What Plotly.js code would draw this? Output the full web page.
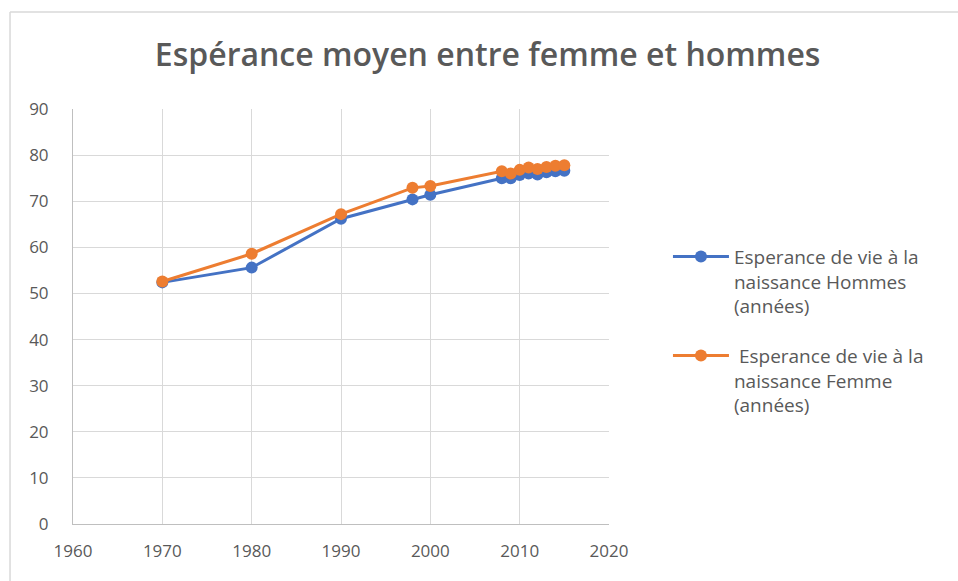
<!DOCTYPE html>
<html>
<head>
<meta charset="utf-8">
<script src="https://cdn.plot.ly/plotly-3.0.1.min.js"></script>
<style>
html,body{margin:0;padding:0;background:#fff;}
#chart{width:958px;height:581px;}
</style>
</head>
<body>
<div id="chart"></div>
<script>
const years = [1970, 1980, 1990, 1998, 2000, 2008, 2009, 2010, 2011, 2012, 2013, 2014, 2015];
const hommes = [52.4, 55.6, 66.2, 70.4, 71.4, 75.0, 75.0, 75.7, 76.0, 75.8, 76.3, 76.5, 76.6];
const femmes = [52.6, 58.6, 67.2, 72.9, 73.3, 76.5, 76.0, 76.8, 77.3, 77.0, 77.4, 77.7, 77.8];
const seriesNames = ["Esperance de vie à la<br>naissance Hommes<br>(années)", " Esperance de vie à la<br>naissance Femme<br>(années)"];
const titleText = "Espérance moyen entre femme et hommes";
const xTicks = [1960, 1970, 1980, 1990, 2000, 2010, 2020];
const yTicks = [0, 10, 20, 30, 40, 50, 60, 70, 80, 90];

const traces = [
  {x: years, y: hommes, name: seriesNames[0], legendgroup: 'h', type: 'scatter', mode: 'lines+markers',
   line: {color: '#4472C4', width: 3}, marker: {color: '#4472C4', size: 12}},
  {x: years, y: femmes, name: seriesNames[1], legendgroup: 'f', type: 'scatter', mode: 'lines+markers',
   line: {color: '#ED7D31', width: 3}, marker: {color: '#ED7D31', size: 12}}
];

const fontFam = '"Open Sans", "Liberation Sans", sans-serif';
const layout = {
  width: 958, height: 581,
  margin: {l: 73, r: 349, t: 109, b: 57},
  paper_bgcolor: '#fff', plot_bgcolor: '#fff',
  title: {text: titleText, x: 0.509, xanchor: 'center', y: 0.905, yanchor: 'middle',
          font: {family: fontFam, size: 32, color: '#595959', weight: 600}},
  xaxis: {range: [1960, 2020], tickvals: xTicks, showgrid: true, gridcolor: '#d9d9d9', gridwidth: 1,
          zeroline: false, showline: true, linecolor: '#bfbfbf', linewidth: 1,
          ticks: '', ticklabelstandoff: 12, tickfont: {family: fontFam, size: 17, color: '#595959'}, fixedrange: true},
  yaxis: {range: [0, 90], tickvals: yTicks, showgrid: true, gridcolor: '#d9d9d9', gridwidth: 1,
          zeroline: false, showline: true, linecolor: '#bfbfbf', linewidth: 1,
          ticks: '', ticklabelstandoff: 20, tickfont: {family: fontFam, size: 17, color: '#595959'}, fixedrange: true},
  showlegend: true,
  legend: {x: 1.11, xanchor: 'left', y: 0.69, yanchor: 'top', valign: 'top', itemwidth: 56,
           font: {family: fontFam, size: 19, color: '#595959'}, tracegroupgap: 22,
           bgcolor: 'rgba(0,0,0,0)'},
  shapes: [
    {type: 'line', xref: 'paper', yref: 'paper', x0: -0.1175, x1: -0.1175, y0: 1.234, y1: -0.2,
     line: {color: '#d9d9d9', width: 1.5}},
    {type: 'line', xref: 'paper', yref: 'paper', x0: -0.1175, x1: 1.7, y0: 1.234, y1: 1.234,
     line: {color: '#d9d9d9', width: 1.5}}
  ]
};

Plotly.newPlot('chart', traces, layout, {displayModeBar: false, staticPlot: true});
</script>
</body>
</html>
